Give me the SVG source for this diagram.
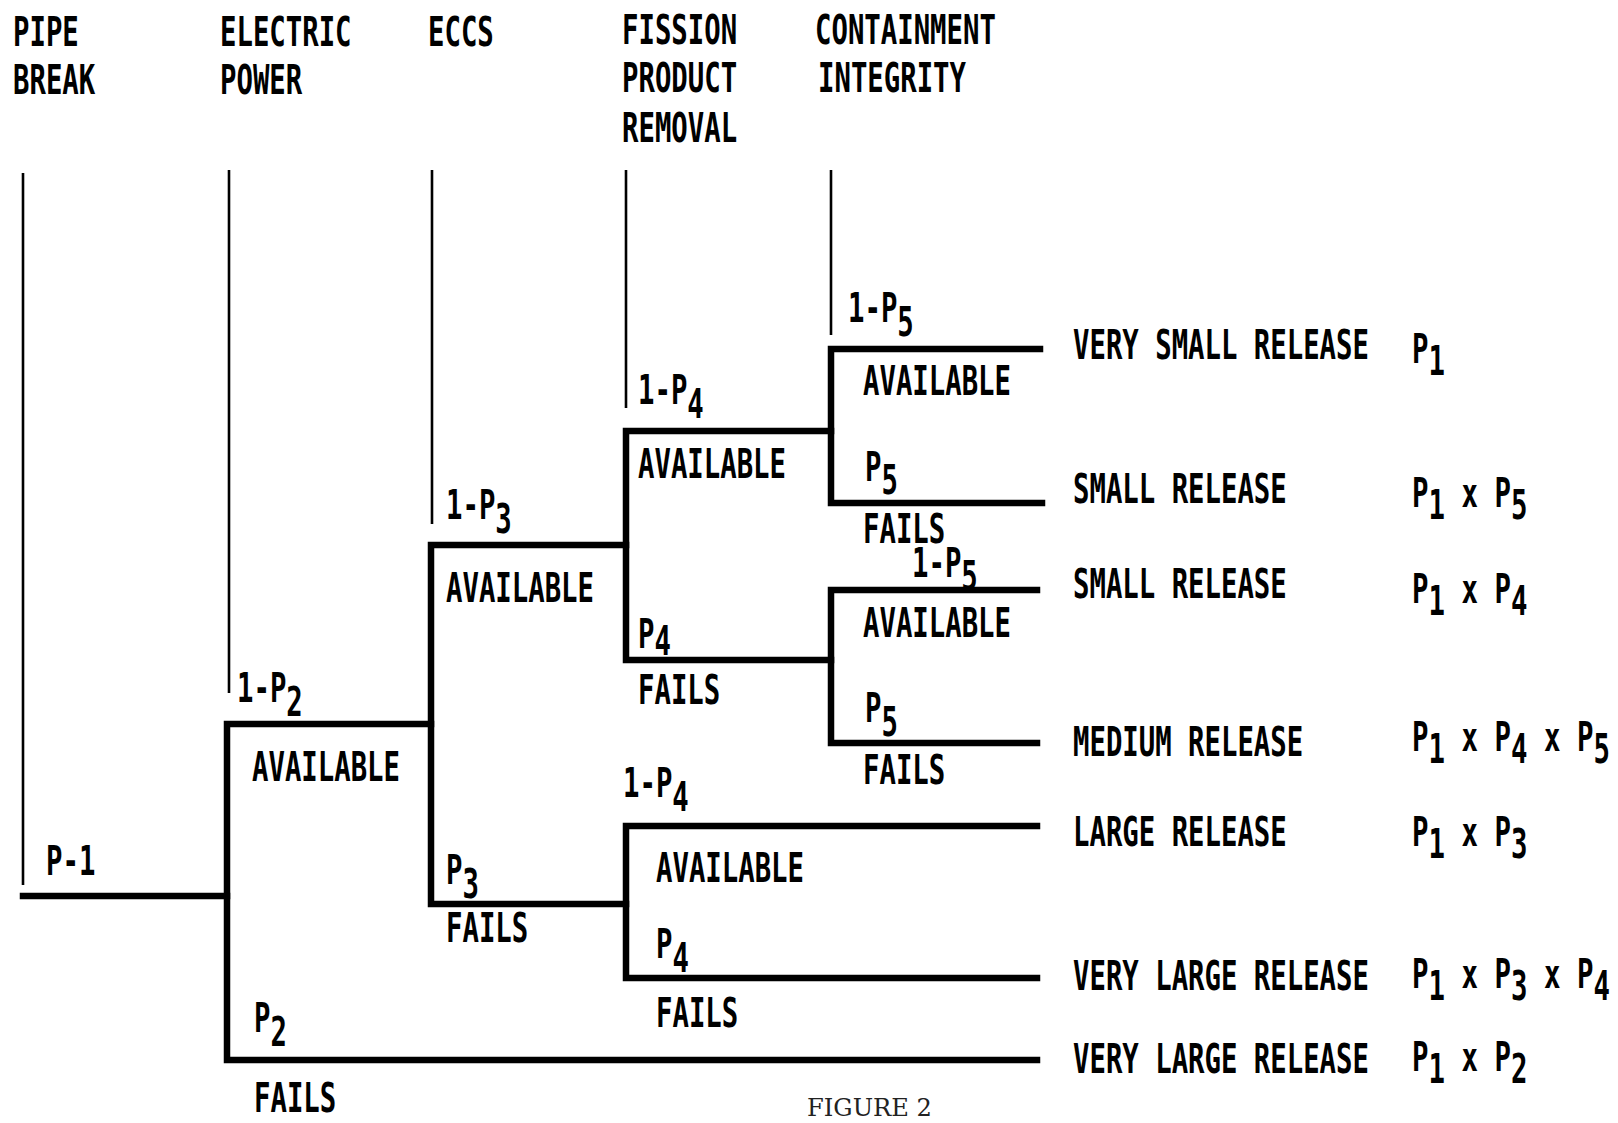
<svg xmlns="http://www.w3.org/2000/svg" width="1618" height="1123" viewBox="0 0 1618 1123">
<style>
  .t { font-family: "DejaVu Sans Mono", "Liberation Mono", monospace; font-weight: bold; font-size: 41px; fill: #000; }
  .thin { stroke: #000; stroke-width: 2.6; fill: none; }
  .thick { stroke: #000; stroke-width: 6.5; fill: none; stroke-linejoin: miter; stroke-linecap: square; }
  .fig { font-family: "DejaVu Serif", "Liberation Serif", serif; font-size: 24px; fill: #222; }
</style>
<rect width="1618" height="1123" fill="#fff"/>

<g id="connectors">
  <line class="thin" x1="23" y1="173" x2="23" y2="885"/>
  <line class="thin" x1="229" y1="170" x2="229" y2="693"/>
  <line class="thin" x1="432" y1="170" x2="432" y2="524"/>
  <line class="thin" x1="626" y1="170" x2="626" y2="408"/>
  <line class="thin" x1="831" y1="170" x2="831" y2="335"/>
  <path class="thick" d="M23 896 H227"/>
  <path class="thick" d="M431 724 H227 V1060 H1037"/>
  <path class="thick" d="M626 545 H431 V904 H626"/>
  <path class="thick" d="M831 431 H626 V660 H831"/>
  <path class="thick" d="M1037 826 H626 V978 H1037"/>
  <path class="thick" d="M1040 349 H831 V503 H1042"/>
  <path class="thick" d="M1037 590 H831 V743 H1037"/>
</g>

<g id="hdr-pipe-break">
  <text class="t" transform="translate(13,46) scale(0.666,1)">PIPE</text>
  <text class="t" transform="translate(13,94) scale(0.666,1)">BREAK</text>
</g>
<g id="hdr-electric-power">
  <text class="t" transform="translate(220,46) scale(0.666,1)">ELECTRIC</text>
  <text class="t" transform="translate(220,94) scale(0.666,1)">POWER</text>
</g>
<g id="hdr-eccs">
  <text class="t" transform="translate(428,46) scale(0.666,1)">ECCS</text>
</g>
<g id="hdr-fission">
  <text class="t" transform="translate(622,44) scale(0.666,1)">FISSION</text>
  <text class="t" transform="translate(622,92) scale(0.666,1)">PRODUCT</text>
  <text class="t" transform="translate(622,142) scale(0.666,1)">REMOVAL</text>
</g>
<g id="hdr-containment">
  <text class="t" transform="translate(815,44) scale(0.666,1)">CONTAINMENT</text>
  <text class="t" transform="translate(818,92) scale(0.666,1)">INTEGRITY</text>
</g>

<g id="node-pipe-break">
  <text class="t" transform="translate(46,875) scale(0.666,1)">P-1</text>
</g>

<g id="node-electric">
  <text class="t" transform="translate(237,702) scale(0.666,1)">1-P<tspan dy="14">2</tspan></text>
  <text class="t" transform="translate(252,781) scale(0.666,1)">AVAILABLE</text>
  <text class="t" transform="translate(254,1032) scale(0.666,1)">P<tspan dy="14">2</tspan></text>
  <text class="t" transform="translate(254,1112) scale(0.666,1)">FAILS</text>
</g>

<g id="node-eccs">
  <text class="t" transform="translate(446,519) scale(0.666,1)">1-P<tspan dy="14">3</tspan></text>
  <text class="t" transform="translate(446,602) scale(0.666,1)">AVAILABLE</text>
  <text class="t" transform="translate(446,884) scale(0.666,1)">P<tspan dy="14">3</tspan></text>
  <text class="t" transform="translate(446,942) scale(0.666,1)">FAILS</text>
</g>

<g id="node-fpr-upper">
  <text class="t" transform="translate(638,404) scale(0.666,1)">1-P<tspan dy="14">4</tspan></text>
  <text class="t" transform="translate(638,478) scale(0.666,1)">AVAILABLE</text>
  <text class="t" transform="translate(638,648) scale(0.666,1)">P<tspan dy="7">4</tspan></text>
  <text class="t" transform="translate(638,704) scale(0.666,1)">FAILS</text>
</g>

<g id="node-fpr-lower">
  <text class="t" transform="translate(623,797) scale(0.666,1)">1-P<tspan dy="14">4</tspan></text>
  <text class="t" transform="translate(656,882) scale(0.666,1)">AVAILABLE</text>
  <text class="t" transform="translate(656,958) scale(0.666,1)">P<tspan dy="14">4</tspan></text>
  <text class="t" transform="translate(656,1027) scale(0.666,1)">FAILS</text>
</g>

<g id="node-ci-upper">
  <text class="t" transform="translate(848,322) scale(0.666,1)">1-P<tspan dy="14">5</tspan></text>
  <text class="t" transform="translate(863,395) scale(0.666,1)">AVAILABLE</text>
  <text class="t" transform="translate(865,481) scale(0.666,1)">P<tspan dy="13">5</tspan></text>
  <text class="t" transform="translate(863,543) scale(0.666,1)">FAILS</text>
</g>

<g id="node-ci-lower">
  <text class="t" transform="translate(912,577) scale(0.666,1)">1-P<tspan dy="13">5</tspan></text>
  <text class="t" transform="translate(863,637) scale(0.666,1)">AVAILABLE</text>
  <text class="t" transform="translate(865,722) scale(0.666,1)">P<tspan dy="14">5</tspan></text>
  <text class="t" transform="translate(863,784) scale(0.666,1)">FAILS</text>
</g>

<g id="outcome-1">
  <text class="t" transform="translate(1073,359) scale(0.666,1)">VERY SMALL RELEASE</text>
  <text class="t" transform="translate(1412,363) scale(0.668,1)">P<tspan dy="12">1</tspan></text>
</g>
<g id="outcome-2">
  <text class="t" transform="translate(1073,503) scale(0.666,1)">SMALL RELEASE</text>
  <text class="t" transform="translate(1412,507) scale(0.668,1)">P<tspan dy="12">1</tspan><tspan dy="-12"> x P</tspan><tspan dy="12">5</tspan></text>
</g>
<g id="outcome-3">
  <text class="t" transform="translate(1073,598) scale(0.666,1)">SMALL RELEASE</text>
  <text class="t" transform="translate(1412,603) scale(0.668,1)">P<tspan dy="12">1</tspan><tspan dy="-12"> x P</tspan><tspan dy="12">4</tspan></text>
</g>
<g id="outcome-4">
  <text class="t" transform="translate(1073,756) scale(0.666,1)">MEDIUM RELEASE</text>
  <text class="t" transform="translate(1412,751) scale(0.668,1)">P<tspan dy="12">1</tspan><tspan dy="-12"> x P</tspan><tspan dy="12">4</tspan><tspan dy="-12"> x P</tspan><tspan dy="12">5</tspan></text>
</g>
<g id="outcome-5">
  <text class="t" transform="translate(1073,846) scale(0.666,1)">LARGE RELEASE</text>
  <text class="t" transform="translate(1412,846) scale(0.668,1)">P<tspan dy="12">1</tspan><tspan dy="-12"> x P</tspan><tspan dy="12">3</tspan></text>
</g>
<g id="outcome-6">
  <text class="t" transform="translate(1073,990) scale(0.666,1)">VERY LARGE RELEASE</text>
  <text class="t" transform="translate(1412,988) scale(0.668,1)">P<tspan dy="12">1</tspan><tspan dy="-12"> x P</tspan><tspan dy="12">3</tspan><tspan dy="-12"> x P</tspan><tspan dy="12">4</tspan></text>
</g>
<g id="outcome-7">
  <text class="t" transform="translate(1073,1073) scale(0.666,1)">VERY LARGE RELEASE</text>
  <text class="t" transform="translate(1412,1071) scale(0.668,1)">P<tspan dy="12">1</tspan><tspan dy="-12"> x P</tspan><tspan dy="12">2</tspan></text>
</g>

<g id="caption">
  <text class="fig" x="807" y="1116" textLength="125" lengthAdjust="spacingAndGlyphs">FIGURE 2</text>
</g>
</svg>
